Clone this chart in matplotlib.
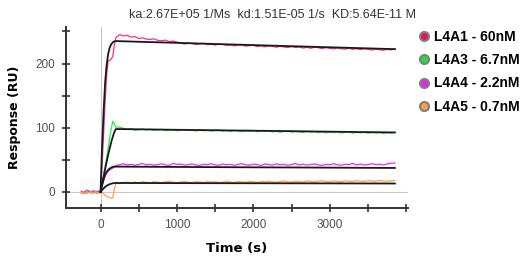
import numpy as np
import matplotlib
matplotlib.use("Agg")
import matplotlib.pyplot as plt
from matplotlib.lines import Line2D

title = "ka:2.67E+05 1/Ms  kd:1.51E-05 1/s  KD:5.64E-11 M"
labels = ["L4A1 - 60nM", "L4A3 - 6.7nM", "L4A4 - 2.2nM", "L4A5 - 0.7nM"]
line_colors = ["#ff2f86", "#2ee84a", "#f028f0", "#ffa04a"]
marker_colors = ["#e8125e", "#22dd44", "#ee22ee", "#ffa040"]

# sensorgram time axis (s): baseline, association, dissociation
t_base = np.arange(-250, 1, 25)
t_assoc = np.arange(20, 201, 20)
t_dissoc = np.arange(250, 3851, 50)
t_data = np.concatenate([t_base, t_assoc, t_dissoc])

base_a1 = [0.5, -1.5, 1.0, -0.5, 2.0, -1.0, 0.0, 1.5, -2.0, 0.5, 0.0]
base_a3 = [-1.0, 1.5, 0.0, -2.0, 1.0, 0.5, -1.5, 2.0, 0.0, -1.0, 0.0]
base_a4 = [1.0, -2.0, 0.5, 3.0, 0.0, -1.5, 2.0, -1.0, 0.5, 1.5, 0.0]
base_a5 = [-2.0, 0.5, -3.0, 1.0, -1.5, 0.0, -2.5, 0.5, -1.0, -2.0, 0.0]

assoc_a1 = [40, 90, 140, 182, 204, 205, 207, 211, 228, 240]
assoc_a3 = [12, 26, 40, 53, 68, 84, 98, 110, 106, 101]
assoc_a4 = [9, 17, 24, 29, 32, 34, 36, 37, 39, 41]
assoc_a5 = [-1, -3, -5, -7, -8, -9, -10, -9, 4, 13]

dissoc_a1 = [245, 243, 244, 241, 242, 239, 240, 238, 237.5, 238.5, 236, 235.5,
             236.5, 234, 235, 233.5,
             231.8, 230.4, 232.0, 231.2, 229.6, 230.9, 231.5, 229.3, 230.1, 228.7,
             230.6, 229.9, 228.2, 229.0, 227.5, 228.8, 229.4, 227.0, 227.9, 228.3,
             226.4, 227.6, 226.0, 227.4, 226.8, 225.3, 226.9, 225.7, 224.9, 226.4,
             225.0, 225.9, 224.1, 225.2, 223.8, 225.4, 224.6, 223.2, 224.9, 223.6,
             222.8, 224.3, 223.1, 222.4, 223.9, 222.0, 223.2, 221.6, 222.9, 222.3,
             221.0, 222.6, 221.4, 220.8, 222.0, 221.3, 223.0]
dissoc_a3 = [101, 99, 97.5, 98.5, 96, 97, 98, 96.5,
             97.8, 95.9, 96.8, 97.6, 95.5, 96.3, 97.1, 95.2, 96.5, 97.4, 95.8, 96.0,
             94.9, 96.7, 95.4, 96.2, 94.8, 95.9, 96.6, 94.7, 95.6, 94.2, 95.8, 95.1,
             93.9, 95.4, 94.6, 95.7, 93.8, 94.9, 94.1, 95.3, 93.5, 94.6, 92.9, 94.3,
             95.0, 93.2, 94.1, 93.4, 92.7, 94.4, 93.0, 93.8, 92.4, 93.6, 92.1, 93.3,
             92.6, 93.9, 91.8, 92.9, 93.5, 91.6, 92.8, 92.0, 93.1, 91.4, 92.5, 91.9,
             92.7, 91.2, 92.3, 91.7, 92.4]
dissoc_a4 = [42.5, 43.8, 42.1, 43.0, 41.6, 42.9, 44.2, 42.3, 43.1, 41.8, 42.7, 43.9,
             42.2, 41.5, 44.6, 42.8, 43.4, 41.9, 42.6, 43.7, 42.0, 41.4, 43.2, 42.5,
             44.0, 42.1, 41.7, 43.5, 42.4, 43.0, 41.6, 42.9, 44.1, 42.2, 41.8, 43.3,
             42.6, 41.3, 43.6, 42.7, 41.9, 43.8, 42.4, 43.1, 41.5, 42.8, 44.3, 42.0,
             43.4, 41.7, 42.9, 43.6, 42.1, 41.4, 43.0, 42.5, 44.0, 42.3, 41.6, 43.2,
             42.7, 44.4, 42.0, 43.5, 41.9, 42.8, 44.1, 42.6, 43.3, 42.0, 43.7, 44.5,
             45.3]
dissoc_a5 = [13.5, 14.8, 15.2, 14.1, 15.6, 14.4, 15.9, 15.0, 14.3, 16.2, 15.1, 14.6,
             15.8, 16.7, 15.2, 14.5, 15.7, 16.4, 15.0, 14.8, 16.1, 15.4, 14.7, 16.6,
             15.3, 16.0, 14.9, 15.5, 16.8, 15.2, 14.6, 16.3, 15.7, 15.0, 16.5, 15.8,
             14.9, 16.2, 15.4, 16.9, 15.6, 15.1, 16.4, 17.2, 15.8, 15.3, 16.7, 16.0,
             15.5, 17.1, 16.3, 15.7, 16.9, 17.6, 16.2, 15.9, 17.3, 16.5, 16.0, 17.4,
             16.8, 16.1, 17.7, 16.9, 16.4, 17.8, 17.0, 16.6, 17.9, 17.2, 16.8, 17.5,
             18.0]

series = [base_a1 + assoc_a1 + dissoc_a1,
          base_a3 + assoc_a3 + dissoc_a3,
          base_a4 + assoc_a4 + dissoc_a4,
          base_a5 + assoc_a5 + dissoc_a5]

# 1:1 fit curves
t_fit = [0, 20, 40, 60, 80, 100, 120, 140, 160, 180, 200,
         500, 1000, 1500, 2000, 2500, 3000, 3500, 3850]
fit_a1 = [0, 70, 125, 170, 198, 215, 225, 230, 233, 234.5, 235,
          233.9, 232.2, 230.4, 228.7, 227.0, 225.3, 223.6, 222.4]
fit_a3 = [0, 12, 24, 35.5, 47, 58, 68, 77.5, 86, 93, 98,
          97.6, 96.8, 96.1, 95.4, 94.7, 93.9, 93.2, 92.7]
fit_a4 = [0, 11, 20, 27, 31.5, 34.5, 36.5, 38, 39, 39.4, 39.5,
          39.3, 39.0, 38.7, 38.4, 38.2, 37.9, 37.6, 37.4]
fit_a5 = [0, 3, 5.5, 7.8, 9.6, 11, 12.1, 12.9, 13.5, 13.8, 14,
          13.9, 13.8, 13.7, 13.6, 13.5, 13.4, 13.3, 13.2]
fits = [fit_a1, fit_a3, fit_a4, fit_a5]

fig = plt.figure(figsize=(5.29, 2.64), dpi=100)
ax = fig.add_axes([0.125, 0.212, 0.646, 0.686])

ax.axhline(0, color="#c8c8c8", lw=0.8, zorder=1)
ax.axvline(0, color="#c8c8c8", lw=0.8, zorder=1)

for vals, c in zip(series, line_colors):
    ax.plot(t_data, vals, color=c, lw=0.9, zorder=2)
for f in fits:
    ax.plot(t_fit, f, color="#1a1a1a", lw=1.3, zorder=3)

ax.set_xlim(-450, 4020)
ax.set_ylim(-25, 257)
ax.set_xticks(np.arange(0, 4001, 500))
ax.set_xticklabels([str(v) if v % 1000 == 0 and v < 4000 else "" for v in range(0, 4001, 500)])
ax.set_yticks(np.arange(0, 251, 50))
ax.set_yticklabels([str(v) if v % 100 == 0 else "" for v in range(0, 251, 50)])

for s in ["top", "right"]:
    ax.spines[s].set_visible(False)
for s in ["left", "bottom"]:
    ax.spines[s].set_color("#333333")
    ax.spines[s].set_linewidth(1.4)
ax.tick_params(direction="inout", length=6, width=1.2, color="#333333",
               labelsize=8.5, labelcolor="#505050", pad=5)
for lab in ax.get_xticklabels() + ax.get_yticklabels():
    lab.set_family("Liberation Sans")

ax.set_xlabel("Time (s)", fontsize=9.5, fontweight="bold", labelpad=8)
ax.set_ylabel("Response (RU)", fontsize=9, fontweight="bold", labelpad=10)
fig.text(0.515, 0.945, title, ha="center", va="center", fontsize=9,
         family="Liberation Sans", color="#333333")

handles = [Line2D([], [], ls="none", marker="o", markersize=6.5,
                  markerfacecolor=mc, markeredgecolor="#808080", markeredgewidth=1.5)
           for mc in marker_colors]
leg = fig.legend(handles, labels, loc="upper left", bbox_to_anchor=(0.791, 0.886),
                 frameon=False, borderpad=0, borderaxespad=0,
                 handlelength=0.8, handletextpad=0.3, labelspacing=0.66,
                 prop={"family": "Liberation Sans", "weight": "bold", "size": 10})

fig.savefig("out.png", dpi=100)
